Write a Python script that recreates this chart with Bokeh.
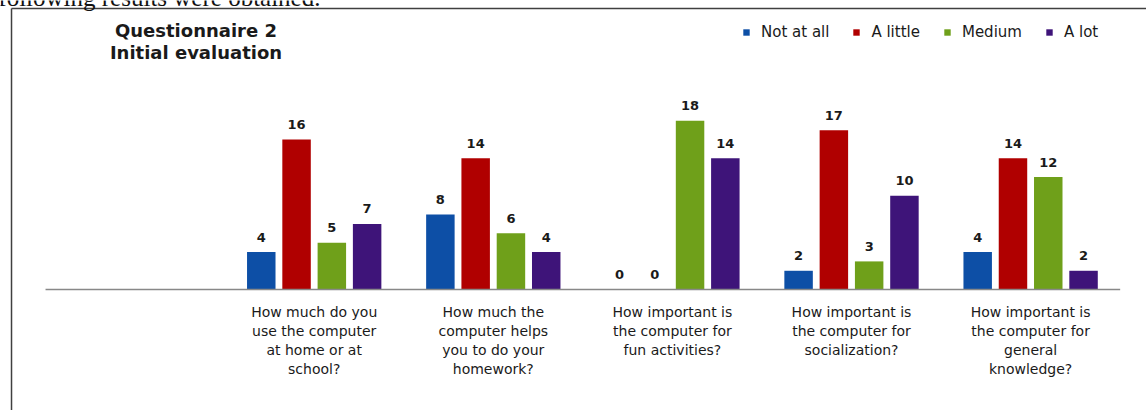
from bokeh.plotting import figure
from bokeh.models import Range1d, ColumnDataSource, Label, Legend, LegendItem
from bokeh.core.properties import value
from bokeh.embed import file_html
from bokeh.resources import INLINE
import numpy as np

# ---- data ----
questions = [
    "How much do you\nuse the computer\nat home or at\nschool?",
    "How much the\ncomputer helps\nyou to do your\nhomework?",
    "How important is\nthe computer for\nfun activities?",
    "How important is\nthe computer for\nsocialization?",
    "How important is\nthe computer for\ngeneral\nknowledge?",
]
series = ["Not at all", "A little", "Medium", "A lot"]
not_at_all = [4, 8, 0, 2, 4]
a_little = [16, 14, 0, 17, 14]
medium = [5, 6, 18, 3, 12]
a_lot = [7, 4, 14, 10, 2]
colors = ["#0D4FA6", "#B00000", "#6FA01A", "#3E1479"]
title_text = "Questionnaire 2\nInitial evaluation"
caption_text = "following results were obtained."

FONT = "DejaVu Sans"
TXT = "#1a1a1a"

X0, X1 = -1.7515, 4.647
Y0, Y1 = -12.91, 30.84
W, H = 1146, 410
p = figure(width=W, height=H, output_backend="svg", toolbar_location=None,
           x_range=Range1d(X0, X1), y_range=Range1d(Y0, Y1),
           x_axis_location=None, y_axis_location=None, min_border=0)
p.grid.visible = False
p.outline_line_color = None
p.background_fill_color = "white"
p.border_fill_color = "white"

n = len(questions)
idx = np.arange(n)
pitch = 0.197
bw = 0.159
all_vals = [not_at_all, a_little, medium, a_lot]
items = []
for j, (name, vals, col) in enumerate(zip(series, all_vals, colors)):
    xs = idx + (j - 1.5) * pitch
    src = ColumnDataSource(dict(x=xs, top=vals, lab=[str(v) for v in vals]))
    r = p.vbar(x="x", top="top", width=bw, source=src, fill_color=col, line_color=None)
    p.text(x="x", y="top", text="lab", source=src, text_align="center",
           text_baseline="middle", y_offset=-15, text_font=value(FONT),
           text_font_style="bold", text_font_size="13px", text_color=TXT)
    items.append(LegendItem(label=name, renderers=[r]))

# baseline (category axis line)
p.segment(x0=[-1.5], y0=[0], x1=[n - 0.5], y1=[0], line_color="#888888", line_width=1.5)

# category labels
p.text(x=idx, y=np.zeros(n), text=questions, text_align="center", text_baseline="top",
       y_offset=14, text_font=value(FONT), text_font_size="14px", text_color=TXT,
       text_line_height=1.2)

# title
p.add_layout(Label(x=-0.66, y=28.76, text=title_text, text_align="center",
                   text_baseline="top", text_font=FONT, text_font_style="bold",
                   text_font_size="18px", text_color=TXT, text_line_height=1.05))

# cut-off caption above the chart box
p.add_layout(Label(x=0.035, y=31.17, text=caption_text, text_align="right",
                   text_baseline="alphabetic", text_font="Liberation Serif",
                   text_font_size="25px", text_color="#111111"))

# chart box border (left & top edges)
bx = -1.690
by = 29.99
p.segment(x0=[bx, bx], y0=[by, by], x1=[bx, X1], y1=[Y0, by],
          line_color="#404040", line_width=1.5)

legend = Legend(items=items, location=(742, 369), orientation="horizontal",
                glyph_width=8, glyph_height=8, label_standoff=11, spacing=23,
                padding=0, margin=0, border_line_color=None, background_fill_alpha=0,
                label_text_font=FONT, label_text_font_size="15px", label_text_color=TXT)
p.add_layout(legend)

open("out.html", "w").write(file_html(p, INLINE))
